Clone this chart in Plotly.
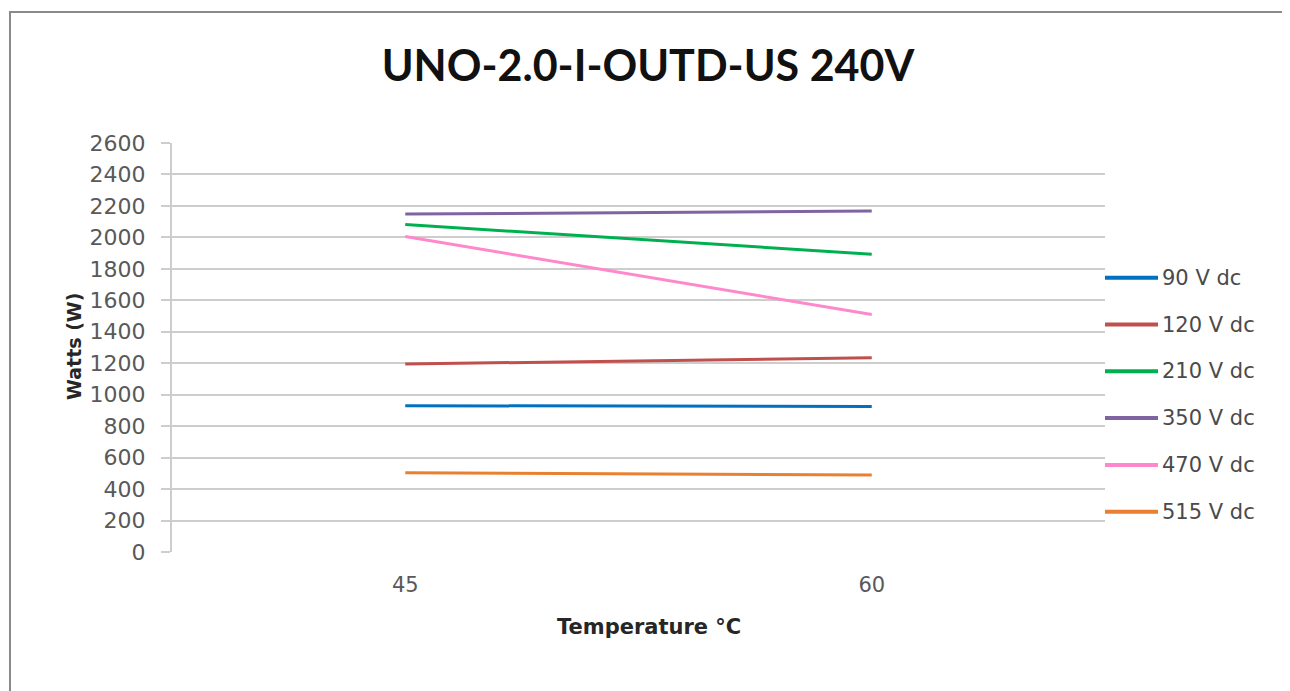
import plotly.graph_objects as go

categories = ["45", "60"]
series_names = ["90 V dc", "120 V dc", "210 V dc", "350 V dc", "470 V dc", "515 V dc"]
v90 = [930, 925]
v120 = [1195, 1235]
v210 = [2082, 1893]
v350 = [2148, 2168]
v470 = [2005, 1510]
v515 = [503, 490]
series_values = [v90, v120, v210, v350, v470, v515]
colors = ["#0070C0", "#C0504D", "#00B050", "#8064A2", "#FF88CC", "#E8802F"]
y_ticks = list(range(0, 2601, 200))

OFF = 8  # page body margin
W, H = 1290 - OFF, 691 - OFF
L, R, T, B = 172 - OFF, 1105 - OFF, 143 - OFF, 552 - OFF
pw, ph = R - L, B - T

def px_x(x):
    return (x - OFF - L) / pw

def px_y(y):
    return (B - (y - OFF)) / ph

fig = go.Figure()
for name, vals, col in zip(series_names, series_values, colors):
    fig.add_trace(go.Scatter(x=categories, y=vals, mode="lines", name=name,
                             line=dict(color=col, width=3), showlegend=False))

shapes = []
annotations = []
# manual legend
for i, (name, col) in enumerate(zip(series_names, colors)):
    yy = px_y(277.7 + 46.8 * i)
    shapes.append(dict(type="line", xref="paper", yref="paper",
                       x0=px_x(1105), x1=px_x(1158), y0=yy, y1=yy,
                       line=dict(color=col, width=4)))
    annotations.append(dict(text=name, xref="paper", yref="paper",
                            x=px_x(1160), y=yy, xanchor="left", yanchor="middle",
                            showarrow=False,
                            font=dict(family="DejaVu Sans", size=21, color="#4a4a4a")))

# outer frame
shapes.append(dict(type="rect", xref="paper", yref="paper",
                   x0=px_x(10), x1=px_x(1284), y0=px_y(720), y1=px_y(12),
                   line=dict(color="#8a8a8a", width=2), fillcolor="rgba(0,0,0,0)",
                   layer="below"))

annotations.append(dict(text="<b>Watts (W)</b>", xref="paper", yref="paper",
                        x=px_x(74), y=px_y(346), textangle=-90,
                        xanchor="center", yanchor="middle", showarrow=False,
                        font=dict(family="DejaVu Sans", size=19, color="#262626")))
annotations.append(dict(text="<b>Temperature °C</b>", xref="paper", yref="paper",
                        x=px_x(649), y=px_y(627),
                        xanchor="center", yanchor="middle", showarrow=False,
                        font=dict(family="DejaVu Sans", size=21, color="#262626")))

fig.update_layout(
    width=W, height=H,
    margin=dict(l=L, r=W - R, t=T, b=H - B, autoexpand=False),
    paper_bgcolor="white", plot_bgcolor="white",
    title=dict(text="<b>UNO-2.0-I-OUTD-US 240V</b>", x=(648 - OFF) / W, xanchor="center",
               y=1 - (66 - OFF) / H, yanchor="middle",
               font=dict(family="Lato", size=43, color="#111111")),
    shapes=shapes, annotations=annotations,
    xaxis=dict(type="category", range=[-0.5, 1.5], showgrid=False,
               showline=False, zeroline=False, ticks="",
               ticklabelstandoff=18,
               tickfont=dict(family="DejaVu Sans", size=21, color="#595959")),
    yaxis=dict(range=[0, 2600], tickvals=y_ticks, showgrid=True,
               gridcolor="#cdcdcd", gridwidth=2, zeroline=False,
               showline=True, linecolor="#cdcdcd", linewidth=2,
               ticks="outside", ticklen=9, tickcolor="#cdcdcd", tickwidth=2,
               ticklabelstandoff=11,
               tickfont=dict(family="DejaVu Sans", size=22, color="#595959")),
)

fig.write_html("out.html")
